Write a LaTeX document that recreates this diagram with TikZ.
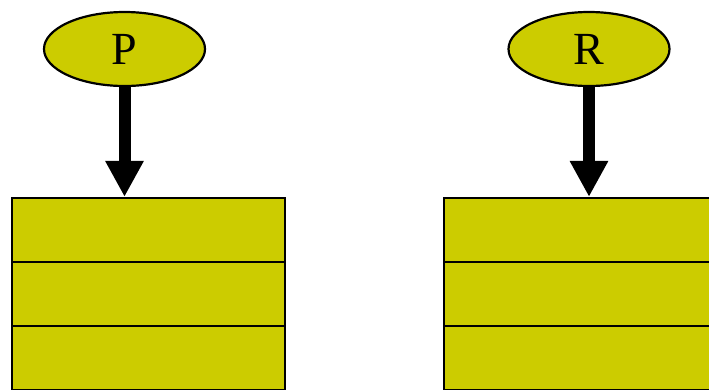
\documentclass[tikz,border=0pt]{standalone}
\usepackage{fontspec}
\setmainfont{Liberation Serif}
\usetikzlibrary{shapes.geometric,arrows.meta}
\definecolor{olivey}{RGB}{204,204,0}
\tikzset{
  ell/.style={ellipse, draw=black, line width=2.2pt, fill=olivey, minimum width=161pt, minimum height=74pt, inner sep=0pt, font=\fontsize{46}{50}\selectfont},
  row/.style={rectangle, draw=black, line width=2.2pt, fill=olivey, minimum width=273pt, minimum height=64pt, inner sep=0pt, outer sep=0pt},
  bigarrow/.style={line width=12pt, -{Triangle[length=36pt,width=36pt]}, shorten >=1.1pt}
}
\begin{document}
\begin{tikzpicture}[x=1pt,y=-1pt]
\useasboundingbox (0,0) rectangle (709,389);
\clip (0,0) rectangle (709,389);
\node[ell] (P) at (124.5,49) {P};
\node[ell] (R) at (589,49) {R};
\node[row] (a1) at (148.5,230) {};
\node[row] (a2) at (148.5,294) {};
\node[row] (a3) at (148.5,358) {};
\node[row] (a4) at (148.5,422) {};
\node[row] (b1) at (580.5,230) {};
\node[row] (b2) at (580.5,294) {};
\node[row] (b3) at (580.5,358) {};
\node[row] (b4) at (580.5,422) {};
\draw[bigarrow] (P.south) -- (P.south |- a1.north);
\draw[bigarrow] (R.south) -- (R.south |- b1.north);
\end{tikzpicture}
\end{document}
